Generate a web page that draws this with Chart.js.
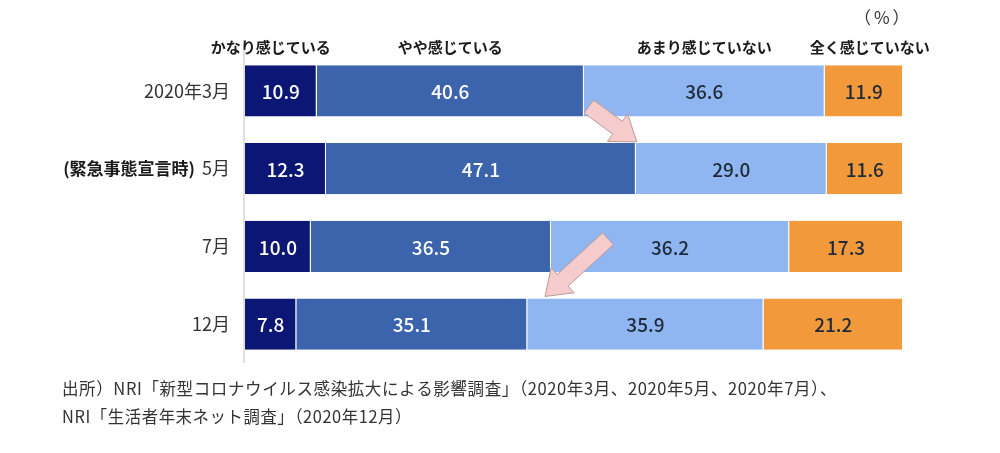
<!DOCTYPE html>
<html lang="ja">
<head>
<meta charset="utf-8">
<script src="https://cdn.jsdelivr.net/npm/chart.js@4"></script>
<style>
    html, body { margin: 0; padding: 0; background: #ffffff; }
    #wrap { width: 1000px; height: 453px; position: relative; }
</style>
</head>
<body>
<div id="wrap">
    <canvas id="surveyChart" width="1000" height="453"></canvas>
</div>

<script>

    // 調査時期
    var periods = ['2020年3月', '5月', '7月', '12月'];
    var periodNotes = ['', '(緊急事態宣言時)', '', ''];

    // 回答カテゴリ
    var answers = ['かなり感じている', 'やや感じている', 'あまり感じていない', '全く感じていない'];

    // 各回答の割合(%)
    var stronglyFeel = [10.9, 12.3, 10.0, 7.8];
    var somewhatFeel = [40.6, 47.1, 36.5, 35.1];
    var notMuchFeel = [36.6, 29.0, 36.2, 35.9];
    var notAtAllFeel = [11.9, 11.6, 17.3, 21.2];

    var unitLabel = '（%）';
    var sourceLines = [
        '出所）NRI「新型コロナウイルス感染拡大による影響調査」（2020年3月、2020年5月、2020年7月）、',
        'NRI「生活者年末ネット調査」（2020年12月）'
    ];

    var colors = ['#0b1675', '#3c64ad', '#8fb6f1', '#f29a3b'];
    var labelColors = ['#ffffff', '#ffffff', '#1f2a3a', '#1f2a3a'];
    var jpFont = '"Noto Sans CJK JP", "Noto Sans", sans-serif';

    var surveyChart = {

        // 帯の中の数値
        valueLabels: {
            id: 'valueLabels',
            afterDatasetsDraw: function (chart) {
                var ctx = chart.ctx;
                ctx.save();
                ctx.font = '500 19px ' + jpFont;
                ctx.textAlign = 'center';
                ctx.textBaseline = 'middle';
                chart.data.datasets.forEach(function (ds, i) {
                    chart.getDatasetMeta(i).data.forEach(function (bar, j) {
                        var cx = (bar.base + bar.x) / 2;
                        ctx.fillStyle = labelColors[i];
                        ctx.fillText(ds.data[j].toFixed(1), cx, bar.y + 1);
                    });
                });
                ctx.restore();
            }
        },

        // 見出し・縦軸ラベル・矢印・出所
        decorations: {
            id: 'decorations',
            afterDraw: function (chart) {
                var ctx = chart.ctx;
                var area = chart.chartArea;
                var xs = chart.scales.x;
                ctx.save();

                // 縦線
                ctx.strokeStyle = '#d6d6d6';
                ctx.lineWidth = 1.5;
                ctx.beginPath();
                ctx.moveTo(area.left - 1, area.top - 12);
                ctx.lineTo(area.left - 1, area.bottom);
                ctx.stroke();

                // 列見出し (1行目の帯の中央)
                ctx.fillStyle = '#1a1a1a';
                ctx.font = 'bold 15px ' + jpFont;
                ctx.textAlign = 'center';
                ctx.textBaseline = 'middle';
                chart.data.datasets.forEach(function (ds, i) {
                    var bar = chart.getDatasetMeta(i).data[0];
                    var cx = (bar.base + bar.x) / 2;
                    if (i === 0) cx -= 10;
                    if (i === 3) cx += 6;
                    ctx.fillText(answers[i], cx, 47);
                });

                ctx.font = '17px ' + jpFont;
                ctx.fillStyle = '#333333';
                ctx.letterSpacing = '3px';
                ctx.fillText(unitLabel, xs.getPixelForValue(97), 18);
                ctx.letterSpacing = '0px';

                // 時期ラベル
                ctx.textAlign = 'right';
                var rightEdge = area.left - 15;
                chart.getDatasetMeta(0).data.forEach(function (bar, j) {
                    ctx.font = '18px ' + jpFont;
                    ctx.fillStyle = '#333333';
                    ctx.fillText(periods[j], rightEdge, bar.y);
                    if (periodNotes[j]) {
                        var w = ctx.measureText(periods[j]).width;
                        ctx.font = 'bold 17px ' + jpFont;
                        ctx.fillStyle = '#1a1a1a';
                        ctx.fillText(periodNotes[j], rightEdge - w - 7, bar.y);
                    }
                });

                // 矢印
                var bars = chart.getDatasetMeta(1).data;
                var half = bars[0].height / 2;
                surveyChart.drawArrow(ctx,
                    bars[0].x + 5, bars[0].y + half - 10,
                    bars[1].x + 1, bars[1].y - half - 1);
                surveyChart.drawArrow(ctx,
                    bars[2].x + 57, bars[2].y - half + 18,
                    bars[2].x - 6, bars[3].y - half - 2);

                // 出所
                ctx.textAlign = 'left';
                ctx.font = '17px ' + jpFont;
                ctx.fillStyle = '#333333';
                ctx.letterSpacing = '0.6px';
                ctx.fillText(sourceLines[0], 62, 389, 775);
                ctx.fillText(sourceLines[1], 62, 417, 350);

                ctx.restore();
            }
        },

        drawArrow: function (ctx, x1, y1, x2, y2) {
            var dx = x2 - x1, dy = y2 - y1;
            var len = Math.sqrt(dx * dx + dy * dy);
            var ux = dx / len, uy = dy / len;
            var nx = -uy, ny = ux;
            var shaft = 8, head = 17, headLen = 24;
            var bx = x2 - ux * headLen, by = y2 - uy * headLen;
            ctx.beginPath();
            ctx.moveTo(x1 + nx * shaft, y1 + ny * shaft);
            ctx.lineTo(bx + nx * shaft, by + ny * shaft);
            ctx.lineTo(bx + nx * head, by + ny * head);
            ctx.lineTo(x2, y2);
            ctx.lineTo(bx - nx * head, by - ny * head);
            ctx.lineTo(bx - nx * shaft, by - ny * shaft);
            ctx.lineTo(x1 - nx * shaft, y1 - ny * shaft);
            ctx.closePath();
            ctx.fillStyle = '#f6cbcb';
            ctx.fill();
            ctx.strokeStyle = '#b99a9a';
            ctx.lineWidth = 1;
            ctx.stroke();
        },

        init: function () {
            var seriesList = [stronglyFeel, somewhatFeel, notMuchFeel, notAtAllFeel];
            var datasets = seriesList.map(function (values, i) {
                return {
                    label: answers[i],
                    data: values,
                    backgroundColor: colors[i],
                    borderColor: '#ffffff',
                    borderWidth: { left: 0, right: 1, top: 0, bottom: 0 },
                    borderSkipped: false,
                    barPercentage: 0.66,
                    categoryPercentage: 1.0
                };
            });

            var config = {
                type: 'bar',
                data: { labels: periods, datasets: datasets },
                options: {
                    indexAxis: 'y',
                    responsive: false,
                    animation: false,
                    layout: { padding: { left: 245, right: 97, top: 52, bottom: 90 } },
                    plugins: {
                        legend: { display: false },
                        tooltip: { enabled: false }
                    },
                    scales: {
                        x: { stacked: true, min: 0, max: 100, display: false },
                        y: { stacked: true, display: false }
                    }
                },
                plugins: [surveyChart.valueLabels, surveyChart.decorations]
            };

            var ctx = document.getElementById('surveyChart').getContext('2d');
            new Chart(ctx, config);
        }
    };

    surveyChart.init();

</script>
</body>
</html>
